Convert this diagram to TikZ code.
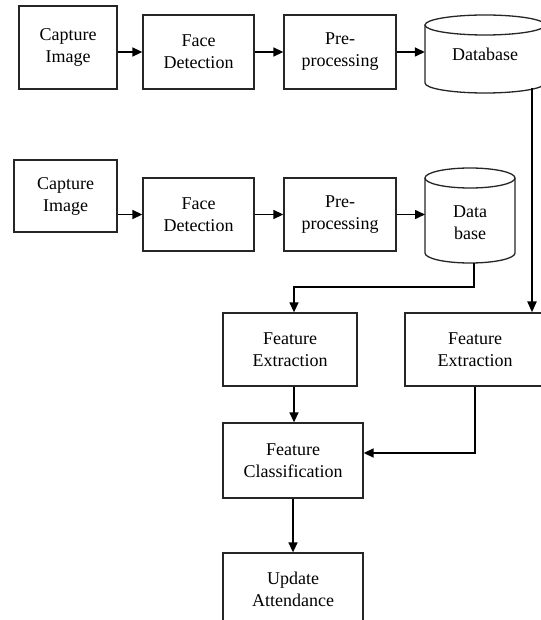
\documentclass[tikz,border=0pt]{standalone}
\usepackage{fontspec}
\setmainfont{Liberation Serif}
\usetikzlibrary{arrows.meta}
\begin{document}
\begin{tikzpicture}[x=1pt,y=1pt,
  box/.style={draw=black!85, line width=1.3pt, align=center, inner sep=0pt,
    font=\fontsize{18}{22}\selectfont},
  txt/.style={align=center, inner sep=0pt, font=\fontsize{18}{22}\selectfont},
  arr/.style={line width=1.5pt, -{Triangle[length=10pt,width=9pt]}},
  thickarr/.style={line width=2.4pt, -{Triangle[length=11pt,width=9pt]}},
  cyl/.style={draw=black!85, line width=1.3pt}]
\useasboundingbox (0,0) rectangle (540,-620);
\fill[white] (0,0) rectangle (540,-620);
% Row 1
\node[box, minimum width=98pt, minimum height=83pt] (cap1) at (68,-47.5) {Capture\\Image};
\node[box, minimum width=111pt, minimum height=74pt] (fd1) at (198.5,-52) {Face\\Detection};
\node[box, minimum width=112pt, minimum height=74pt] (pp1) at (340,-52) {Pre-\\processing};
\draw[cyl, fill=white] (425,-25) -- (425,-83) arc[start angle=180, end angle=360, x radius=60pt, y radius=10pt] -- (545,-25);
\draw[cyl] (485,-25) ellipse[x radius=60pt, y radius=10pt];
\node[txt, minimum width=120pt, minimum height=58pt] (db1) at (485,-54) {Database};
% Row 2
\node[box, minimum width=103pt, minimum height=72pt] (cap2) at (65.5,-196) {Capture\\Image};
\node[box, minimum width=111pt, minimum height=73pt] (fd2) at (198.5,-214.5) {Face\\Detection};
\node[box, minimum width=112pt, minimum height=73pt] (pp2) at (340,-214.5) {Pre-\\processing};
\draw[cyl, fill=white] (425,-178) -- (425,-253) arc[start angle=180, end angle=360, x radius=45pt, y radius=10pt] -- (515,-178);
\draw[cyl] (470,-178) ellipse[x radius=45pt, y radius=10pt];
\node[txt, minimum width=90pt, minimum height=60pt] (db2) at (470,-223) {Data\\base};
% Lower part
\node[box, minimum width=134pt, minimum height=73pt] (fe1) at (290,-349.5) {Feature\\Extraction};
\node[box, minimum width=140pt, minimum height=73pt] (fe2) at (475,-349.5) {Feature\\Extraction};
\node[box, minimum width=140pt, minimum height=75pt] (fc) at (293,-460.5) {Feature\\Classification};
\node[box, minimum width=140pt, minimum height=72pt, text depth=0pt] (ua) at (293,-589) {Update\\Attendance};
% coordinates
\coordinate (db1b) at (532,-88);
\coordinate (db2b) at (474,-263);
\coordinate (jn1) at (294,-287);
\coordinate (jn2) at (475,-453);
% connectors row 1
\draw[arr] (cap1.east |- fd1) -- (fd1.west);
\draw[arr] (fd1) -- (pp1);
\draw[arr] (pp1.east) -- (pp1.east -| db1.west);
% connectors row 2
\draw[arr] (cap2.east |- fd2) -- (fd2.west);
\draw[arr] (fd2) -- (pp2);
\draw[arr] (pp2.east) -- (425,-214.5);
% lower connectors
\draw[thickarr] (db1b) -- (db1b |- fe2.north);
\draw[arr] (db2b) |- (jn1) -- (jn1 |- fe1.north);
\draw[arr] (jn1 |- fe1.south) -- (jn1 |- fc.north);
\draw[arr] (fe2.south) -- (jn2) -- (jn2 -| fc.east);
\draw[arr] (fc) -- (ua);
\end{tikzpicture}
\end{document}
